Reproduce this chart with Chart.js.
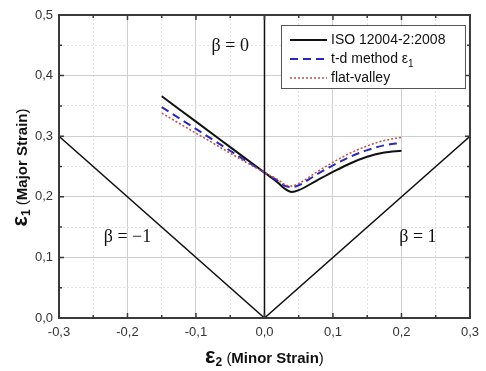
<!DOCTYPE html>
<html>
<head>
<meta charset="utf-8">
<script src="https://cdn.jsdelivr.net/npm/chart.js@4.4.0/dist/chart.umd.min.js"></script>
<style>
  html, body { margin: 0; padding: 0; background: #fff; }
  #wrap { width: 486px; height: 371px; }
</style>
</head>
<body>
<div id="wrap"><canvas id="flcChart"></canvas></div>
<script>
// minor strain (x) sample points, shared by the three FLC curves
const minorStrain = [-0.15, -0.1, -0.05, 0, 0.02, 0.03, 0.04, 0.05, 0.075, 0.1, 0.125, 0.15, 0.175, 0.2];
const isoMajor = [0.366, 0.324, 0.282, 0.24, 0.223, 0.213, 0.208, 0.211, 0.226, 0.241, 0.255, 0.266, 0.273, 0.276];
const tdMajor = [0.348, 0.312, 0.276, 0.24, 0.226, 0.218, 0.216, 0.219, 0.236, 0.252, 0.266, 0.277, 0.285, 0.289];
const flatMajor = [0.338, 0.305, 0.272, 0.24, 0.228, 0.220, 0.218, 0.222, 0.240, 0.257, 0.272, 0.284, 0.293, 0.298];

// strain path lines (beta = -1 / 1 and beta = 0)
const betaPathX = [-0.3, 0, 0.3];
const betaPathY = [0.3, 0, 0.3];
const planeX = [0, 0];
const planeY = [0, 0.5];

const seriesLabels = ["ISO 12004-2:2008", "t-d method ε_1", "flat-valley"];
const betaLabels = [
  { text: "β = 0", x: -0.05, y: 0.44 },
  { text: "β = −1", x: -0.2, y: 0.126 },
  { text: "β = 1", x: 0.224, y: 0.126 },
];
const xTicks = { min: -0.3, max: 0.3, step: 0.05 };
const yTicks = { min: 0, max: 0.5, step: 0.05 };

const pts = (xs, ys) => xs.map((x, i) => ({ x: x, y: ys[i] }));
const isMajor = (v) => Math.abs(Math.round(v * 10) - v * 10) < 1e-6;
const fmt = (v) => (isMajor(v) ? (Math.round(v * 10) / 10).toFixed(1).replace(".", ",") : "");

const SANS = "'Liberation Sans', Arial, sans-serif";
const SERIF = "'Liberation Serif', 'Times New Roman', serif";

// frame + inward tick marks on all 4 sides
const framePlugin = {
  id: "frame",
  afterDraw(chart) {
    const { ctx, chartArea: a, scales } = chart;
    ctx.save();
    ctx.strokeStyle = "#3a3a3a";
    ctx.lineWidth = 1.5;
    scales.x.ticks.forEach((t) => {
      const px = scales.x.getPixelForValue(t.value);
      const len = isMajor(t.value) ? 5 : 3;
      ctx.beginPath();
      ctx.moveTo(px, a.bottom); ctx.lineTo(px, a.bottom - len);
      ctx.moveTo(px, a.top); ctx.lineTo(px, a.top + len);
      ctx.stroke();
    });
    scales.y.ticks.forEach((t) => {
      const py = scales.y.getPixelForValue(t.value);
      const len = isMajor(t.value) ? 5 : 3;
      ctx.beginPath();
      ctx.moveTo(a.left, py); ctx.lineTo(a.left + len, py);
      ctx.moveTo(a.right, py); ctx.lineTo(a.right - len, py);
      ctx.stroke();
    });
    ctx.lineWidth = 2;
    ctx.strokeRect(a.left, a.top, a.right - a.left, a.bottom - a.top);
    ctx.restore();
  },
};

// draw a run of [text, font, dy] pieces, returns width
function richText(ctx, parts, x, y, measureOnly) {
  let w = 0;
  parts.forEach((p) => {
    ctx.font = p[1];
    if (!measureOnly) ctx.fillText(p[0], x + w, y + (p[2] || 0));
    w += ctx.measureText(p[0]).width;
  });
  return w;
}

const titlesPlugin = {
  id: "titles",
  afterDraw(chart) {
    const { ctx, chartArea: a, scales } = chart;
    ctx.save();
    ctx.fillStyle = "#111";
    ctx.textBaseline = "alphabetic";
    ctx.textAlign = "left";

    const xParts = [
      ["ε", "bold 22px " + SANS],
      ["2", "bold 12px " + SANS, 3],
      [" (", "15px " + SANS],
      ["Minor Strain", "bold 15px " + SANS],
      [")", "15px " + SANS],
    ];
    const xw = richText(ctx, xParts, 0, 0, true);
    richText(ctx, xParts, (a.left + a.right) / 2 - xw / 2, 363);

    const yParts = [
      ["ε", "bold 22px " + SANS],
      ["1", "bold 12px " + SANS, 3],
      [" (", "15px " + SANS],
      ["Major Strain", "bold 15px " + SANS],
      [")", "15px " + SANS],
    ];
    const yw = richText(ctx, yParts, 0, 0, true);
    ctx.translate(27, (a.top + a.bottom) / 2 + 1);
    ctx.rotate(-Math.PI / 2);
    richText(ctx, yParts, -yw / 2, 0);
    ctx.restore();

    // beta annotations
    ctx.save();
    ctx.fillStyle = "#111";
    ctx.font = "18px " + SERIF;
    ctx.textAlign = "center";
    ctx.textBaseline = "alphabetic";
    betaLabels.forEach((b) => {
      ctx.fillText(b.text, scales.x.getPixelForValue(b.x), scales.y.getPixelForValue(b.y));
    });
    ctx.restore();
  },
};

// boxed legend inside the plot, upper right
const legendPlugin = {
  id: "boxLegend",
  afterDraw(chart) {
    const { ctx, chartArea: a } = chart;
    const items = chart.data.datasets
      .filter((d) => seriesLabels.includes(d.label))
      .sort((p, q) => seriesLabels.indexOf(p.label) - seriesLabels.indexOf(q.label));
    const bx = 281, by = 25, bw = a.right - 5 - 281, bh = 63;
    ctx.save();
    ctx.fillStyle = "#fff";
    ctx.fillRect(bx, by, bw, bh);
    ctx.strokeStyle = "#555";
    ctx.lineWidth = 1;
    ctx.strokeRect(bx + 0.5, by + 0.5, bw, bh);
    items.forEach((d, i) => {
      const y = by + 15 + i * 19;
      ctx.strokeStyle = d.borderColor;
      ctx.lineWidth = d.borderWidth;
      ctx.setLineDash(d.borderDash || []);
      ctx.beginPath();
      ctx.moveTo(bx + 9, y);
      ctx.lineTo(bx + 46, y);
      ctx.stroke();
      ctx.setLineDash([]);
      ctx.fillStyle = "#111";
      ctx.textBaseline = "middle";
      ctx.textAlign = "left";
      const [base, sub] = d.label.split("_");
      const parts = [[base, "14px " + SANS]];
      if (sub) parts.push([sub, "10px " + SANS, 5]);
      richText(ctx, parts, bx + 50, y);
    });
    ctx.restore();
  },
};

const lineDs = (label, data, color, width, dash, smooth) => ({
  label: label,
  data: data,
  showLine: true,
  borderColor: color,
  borderWidth: width,
  borderDash: dash,
  pointRadius: 0,
  fill: false,
  tension: smooth ? 0.4 : 0,
  cubicInterpolationMode: smooth ? "monotone" : "default",
});

new Chart(document.getElementById("flcChart"), {
  type: "scatter",
  data: {
    datasets: [
      lineDs("beta", pts(betaPathX, betaPathY), "#111", 1.5, [], false),
      lineDs("plane", pts(planeX, planeY), "#111", 1.5, [], false),
      lineDs(seriesLabels[2], pts(minorStrain, flatMajor), "#c0504d", 1.5, [2, 2], true),
      lineDs(seriesLabels[1], pts(minorStrain, tdMajor), "#2a2ab8", 2, [8, 5], true),
      lineDs(seriesLabels[0], pts(minorStrain, isoMajor), "#111", 2, [], true),
    ],
  },
  options: {
    responsive: true,
    maintainAspectRatio: false,
    animation: false,
    layout: { padding: { left: 0, right: 8, top: 15, bottom: 0 } },
    plugins: {
      legend: { display: false },
      tooltip: { enabled: false },
    },
    scales: {
      x: {
        type: "linear",
        min: xTicks.min,
        max: xTicks.max,
        ticks: {
          stepSize: xTicks.step,
          autoSkip: false,
          maxRotation: 0,
          padding: 7,
          color: "#333",
          font: { family: SANS, size: 13 },
          callback: (v) => fmt(v),
        },
        grid: {
          drawTicks: false,
          color: (c) => (c.tick && isMajor(c.tick.value) ? "#cfcfcf" : "#e2e2e2"),
          lineWidth: 1,
        },
        border: {
          display: false,
          dash: (c) => (c.tick && !isMajor(c.tick.value) ? [2, 2] : []),
        },
        afterFit: (s) => { s.height = 53; },
      },
      y: {
        type: "linear",
        min: yTicks.min,
        max: yTicks.max,
        ticks: {
          stepSize: yTicks.step,
          autoSkip: false,
          padding: 6,
          color: "#333",
          font: { family: SANS, size: 13 },
          callback: (v) => fmt(v),
        },
        grid: {
          drawTicks: false,
          color: (c) => (c.tick && isMajor(c.tick.value) ? "#cfcfcf" : "#e2e2e2"),
          lineWidth: 1,
        },
        border: {
          display: false,
          dash: (c) => (c.tick && !isMajor(c.tick.value) ? [2, 2] : []),
        },
        afterFit: (s) => { s.width = 59; },
      },
    },
  },
  plugins: [framePlugin, titlesPlugin, legendPlugin],
});
</script>
</body>
</html>
